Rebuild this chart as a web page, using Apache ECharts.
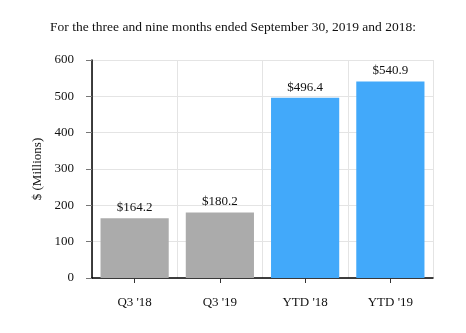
<!DOCTYPE html>
<html>
<head>
<meta charset="utf-8">
<script src="https://cdn.jsdelivr.net/npm/echarts@6/dist/echarts.min.js"></script>
<style>
  html, body { margin: 0; padding: 0; background: #fff; }
  #chart { width: 466px; height: 333px; }
</style>
</head>
<body>
<div id="chart"></div>
<script>
// Revenue by period, $ millions
const categories = ["Q3 '18", "Q3 '19", "YTD '18", "YTD '19"];
const values = [164.2, 180.2, 496.4, 540.9];
const barColors = ['#ababab', '#ababab', '#42a9fa', '#42a9fa'];
const titleText = 'For the three and nine months ended September 30, 2019 and 2018:';
const yAxisName = '$ (Millions)';

const serif = '"Liberation Serif", "DejaVu Serif", serif';

const chart = echarts.init(document.getElementById('chart'), null, { renderer: 'canvas' });
chart.setOption({
  animation: false,
  backgroundColor: '#ffffff',
  title: {
    text: titleText,
    left: 'center',
    top: 15,
    textStyle: { fontFamily: serif, fontSize: 13.5, fontWeight: 'normal', color: '#111' }
  },
  grid: { left: 92, right: 33, top: 60, bottom: 55, containLabel: false },
  xAxis: {
    type: 'category',
    data: categories,
    axisLine: { lineStyle: { color: '#000', width: 1.5 } },
    axisTick: { show: true, alignWithLabel: true, length: 5, lineStyle: { color: '#333' } },
    axisLabel: { fontFamily: serif, fontSize: 13, color: '#111', margin: 18 },
    splitLine: { show: true, interval: 0, lineStyle: { color: '#e4e4e4' } }
  },
  yAxis: {
    type: 'value',
    min: 0,
    max: 600,
    interval: 100,
    name: yAxisName,
    nameLocation: 'middle',
    nameGap: 47,
    nameTextStyle: { fontFamily: serif, fontSize: 13, color: '#111' },
    axisLine: { show: true, lineStyle: { color: '#000', width: 1.5 } },
    axisTick: { show: true, length: 6, lineStyle: { color: '#777' } },
    axisLabel: { fontFamily: serif, fontSize: 13, color: '#111', margin: 18 },
    splitLine: { show: true, lineStyle: { color: '#e4e4e4' } }
  },
  series: [{
    type: 'bar',
    data: values.map((v, i) => ({ value: v, itemStyle: { color: barColors[i] } })),
    barWidth: '80%',
    label: {
      show: true,
      position: 'top',
      distance: 4,
      fontFamily: serif,
      fontSize: 13,
      color: '#111',
      formatter: p => '$' + p.value.toFixed(1)
    }
  }]
});
</script>
</body>
</html>
